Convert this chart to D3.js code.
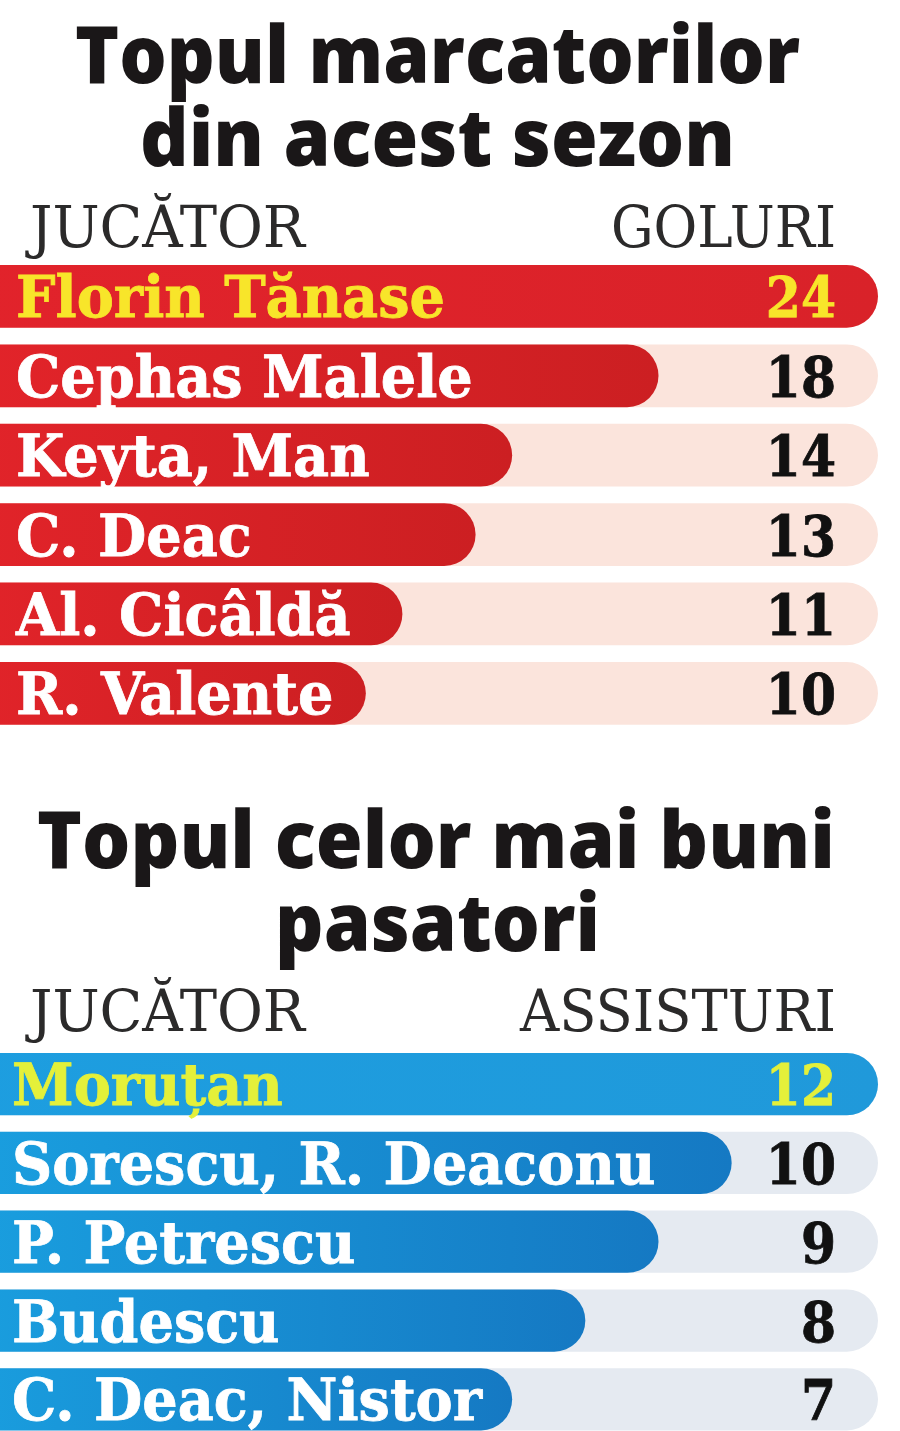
<!DOCTYPE html>
<html>
<head>
<meta charset="utf-8">
<script src="https://cdn.jsdelivr.net/npm/d3@7"></script>
<style>
  html, body { margin: 0; padding: 0; background: #ffffff; }
  svg { display: block; }
</style>
</head>
<body>
<svg id="chart" width="900" height="1431"></svg>
<script>
// ---- data ----
const scorerTitle = ["Topul marcatorilor", "din acest sezon"];
const scorerHeaders = ["JUCĂTOR", "GOLURI"];
const scorerNames = ["Florin Tănase", "Cephas Malele", "Keyta, Man", "C. Deac", "Al. Cicâldă", "R. Valente"];
const scorerGoals = [24, 18, 14, 13, 11, 10];

const assistTitle = ["Topul celor mai buni", "pasatori"];
const assistHeaders = ["JUCĂTOR", "ASSISTURI"];
const assistNames = ["Moruțan", "Sorescu, R. Deaconu", "P. Petrescu", "Budescu", "C. Deac, Nistor"];
const assistValues = [12, 10, 9, 8, 7];

// ---- drawing ----
const svg = d3.select("#chart");
const defs = svg.append("defs");

function grad(id, c0, c1) {
  const g = defs.append("linearGradient").attr("id", id)
    .attr("x1", "0%").attr("x2", "100%").attr("y1", "0%").attr("y2", "0%");
  g.append("stop").attr("offset", "0%").attr("stop-color", c0);
  g.append("stop").attr("offset", "100%").attr("stop-color", c1);
}
grad("redTop", "#e2232b", "#d92229");
grad("red", "#e3242a", "#cc1f22");
grad("blueTop", "#1d9ee0", "#2099da");
grad("blue", "#1aa0e0", "#1579c3");

function section(cfg) {
  const g = svg.append("g");
  // titles
  g.selectAll("text.title").data(cfg.title).join("text")
    .attr("class", "title")
    .attr("x", (d, i) => cfg.titleX[i])
    .attr("y", (d, i) => cfg.titleY[i])
    .attr("textLength", (d, i) => cfg.titleW[i])
    .attr("lengthAdjust", "spacingAndGlyphs")
    .attr("font-family", "'Open Sans', 'Noto Sans', sans-serif")
    .attr("font-weight", 800)
    .attr("font-size", 79)
    .attr("fill", "#1a1718")
    .text(d => d);

  // headers
  g.append("text")
    .attr("x", 30).attr("y", cfg.headerY)
    .attr("textLength", 275).attr("lengthAdjust", "spacingAndGlyphs")
    .attr("font-family", "'DejaVu Serif', serif")
    .attr("font-size", 58).attr("fill", "#2b2a2a")
    .text(cfg.headers[0]);
  g.append("text")
    .attr("x", 836).attr("y", cfg.headerY)
    .attr("text-anchor", "end")
    .attr("textLength", cfg.header2W).attr("lengthAdjust", "spacingAndGlyphs")
    .attr("font-family", "'DejaVu Serif', serif")
    .attr("font-size", 58).attr("fill", "#2b2a2a")
    .text(cfg.headers[1]);

  const n = cfg.names.length;
  const x = d3.scaleLinear().domain([0, cfg.max]).range([0, 878]);
  const y = d3.scaleBand().domain(d3.range(n))
    .range([cfg.y0, cfg.y0 + cfg.step * n - cfg.step * cfg.padding])
    .paddingInner(cfg.padding).paddingOuter(0);
  const h = y.bandwidth();
  const base = h / 2 + 21;

  const rows = g.selectAll("g.row").data(cfg.names.map((nm, i) => ({ name: nm, value: cfg.values[i], i })))
    .join("g").attr("class", "row")
    .attr("transform", d => `translate(0,${y(d.i)})`);

  rows.append("rect")
    .attr("x", -60).attr("y", 0)
    .attr("width", x(cfg.max) + 60).attr("height", h)
    .attr("rx", h / 2).attr("ry", h / 2)
    .attr("fill", cfg.track);

  rows.append("rect")
    .attr("x", -60).attr("y", 0)
    .attr("width", d => x(d.value) + 60).attr("height", h)
    .attr("rx", h / 2).attr("ry", h / 2)
    .attr("fill", d => d.i === 0 ? `url(#${cfg.barTop})` : `url(#${cfg.bar})`);

  rows.append("text")
    .attr("class", "name")
    .attr("transform", `translate(${cfg.labelX},${base}) scale(0.96,1)`)
    .attr("font-family", "'DejaVu Serif', serif")
    .attr("font-weight", 700)
    .attr("font-size", 58)
    .attr("fill", d => d.i === 0 ? cfg.highlight : "#ffffff")
    .attr("stroke", d => d.i === 0 ? cfg.highlight : "#ffffff")
    .attr("stroke-width", 0.8)
    .text(d => d.name);

  rows.append("text")
    .attr("class", "val")
    .attr("transform", `translate(836,${base}) scale(0.9,1)`)
    .attr("text-anchor", "end")
    .attr("font-family", "'DejaVu Serif', serif")
    .attr("font-weight", 700)
    .attr("font-size", 56)
    .attr("fill", d => d.i === 0 ? cfg.highlight : "#111111")
    .attr("stroke", d => d.i === 0 ? cfg.highlight : "#111111")
    .attr("stroke-width", 0.8)
    .text(d => d.value);
}

section({
  title: scorerTitle, titleX: [75, 140], titleY: [83, 166], titleW: [725, 595],
  headers: scorerHeaders, headerY: 247, header2W: 225,
  names: scorerNames, values: scorerGoals, max: 24,
  y0: 265, step: 79.4, padding: 0.21,
  track: "#fbe4dc", bar: "red", barTop: "redTop", highlight: "#f8e52a", labelX: 16
});

section({
  title: assistTitle, titleX: [37, 275], titleY: [868, 951], titleW: [798, 325],
  headers: assistHeaders, headerY: 1031, header2W: 316,
  names: assistNames, values: assistValues, max: 12,
  y0: 1053, step: 78.8, padding: 0.21,
  track: "#e5eaf1", bar: "blue", barTop: "blueTop", highlight: "#e4f03a", labelX: 12
});
</script>
</body>
</html>
